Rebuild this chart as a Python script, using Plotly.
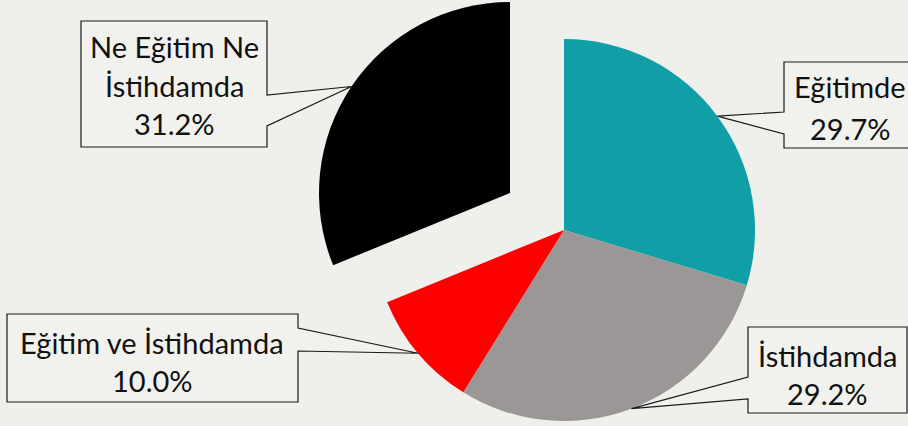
import math
import plotly.graph_objects as go

# ---- data ----
categories = ["Eğitimde", "İstihdamda", "Eğitim ve İstihdamda", "Ne Eğitim Ne İstihdamda"]
values = [29.7, 29.2, 10.0, 31.2]
colors = ["#109FA6", "#9B9797", "#FF0000", "#000000"]
label_lines = [["Eğitimde", "29.7%"], ["İstihdamda", "29.2%"],
               ["Eğitim ve İstihdamda", "10.0%"], ["Ne Eğitim Ne", "İstihdamda", "31.2%"]]

W, H = 908, 426
BG = "#EFEFEC"
FONT = "Lato"
FS = 29

R = 191
CX, CY = 564, 230          # main pie centre (px)
EXPLODED = 3               # index of the pulled slice
ECX, ECY = 510, 193        # centre of the pulled slice (px)


def px(x):
    return x / W


def py(y):
    return 1 - y / H


def domain(cx, cy, r, half_w=250):
    return dict(x=[px(cx - half_w), px(cx + half_w)], y=[py(cy + r), py(cy - r)])


total = sum(values)


def mid_point(i, cx, cy):
    start = sum(values[:i]) / total * 360
    ang = math.radians(start + values[i] / total * 360 / 2)
    return cx + R * math.sin(ang), cy - R * math.cos(ang)


base_colors = [c if i != EXPLODED else "rgba(0,0,0,0)" for i, c in enumerate(colors)]
ex_colors = [c if i == EXPLODED else "rgba(0,0,0,0)" for i, c in enumerate(colors)]

fig = go.Figure()
fig.add_trace(go.Pie(labels=categories, values=values, sort=False, direction="clockwise",
                     rotation=0, marker=dict(colors=base_colors, line=dict(width=0)),
                     textinfo="none", hoverinfo="skip", showlegend=False,
                     domain=domain(CX, CY, R)))
fig.add_trace(go.Pie(labels=categories, values=values, sort=False, direction="clockwise",
                     rotation=0, marker=dict(colors=ex_colors, line=dict(width=0)),
                     textinfo="none", hoverinfo="skip", showlegend=False,
                     domain=domain(ECX, ECY, R)))

# callout boxes: (x0, x1, y0, y1, side, notch_y0, notch_y1, text_cx, line_centres)
boxes = {
    0: (784, 922, 62, 148, "left", 112, 134, 850, [87, 128]),
    1: (748, 907, 327, 413, "left", 377, 399, 827, [355, 393]),
    2: (7, 298, 314, 402, "right", 328, 351, 152, [342, 380]),
    3: (81, 267, 21, 147, "right", 95, 126, 174, [46, 85, 124]),
}

shapes = []
annotations = []
for i, (x0, x1, y0, y1, side, n0, n1, tcx, lcs) in boxes.items():
    if i == EXPLODED:
        tx, ty = mid_point(i, ECX, ECY)
    else:
        tx, ty = mid_point(i, CX, CY)
    if side == "right":
        pts = [(x0, y0), (x1, y0), (x1, n0), (tx, ty), (x1, n1), (x1, y1), (x0, y1)]
    else:
        pts = [(x0, y0), (x1, y0), (x1, y1), (x0, y1), (x0, n1), (tx, ty), (x0, n0)]
    path = "M " + " L ".join(f"{px(a):.5f},{py(b):.5f}" for a, b in pts) + " Z"
    shapes.append(dict(type="path", path=path, xref="paper", yref="paper",
                       line=dict(color="#1a1a1a", width=1.2), fillcolor="rgba(245,245,243,0.4)"))
    for text, lc in zip(label_lines[i], lcs):
        annotations.append(dict(text=text, x=px(tcx), y=py(lc), xref="paper", yref="paper",
                                xanchor="center", yanchor="middle", showarrow=False,
                                font=dict(family=FONT, size=FS, color="#111111")))

fig.update_layout(width=W, height=H, margin=dict(l=0, r=0, t=0, b=0),
                  paper_bgcolor=BG, plot_bgcolor=BG,
                  shapes=shapes, annotations=annotations)

fig.write_html("out.html", config={"displayModeBar": False, "staticPlot": True},
               post_script="document.body.style.margin='0';document.body.style.overflow='hidden';")
